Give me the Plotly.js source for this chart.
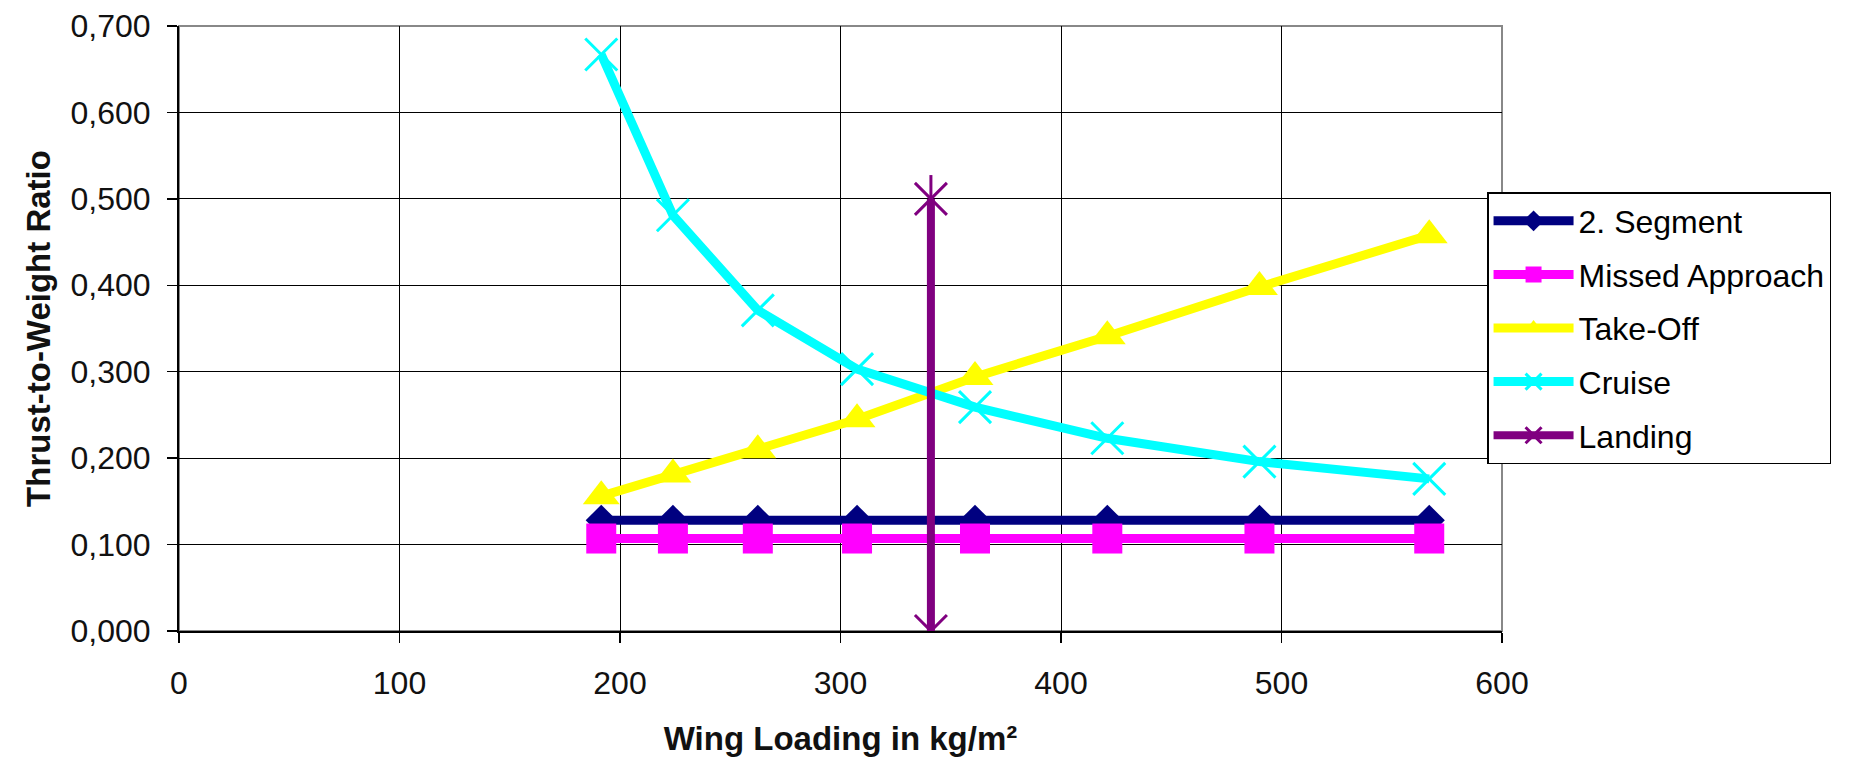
<!DOCTYPE html>
<html>
<head>
<meta charset="utf-8">
<script src="https://cdn.plot.ly/plotly-3.0.1.min.js"></script>
<style>
html,body{margin:0;padding:0;background:#fff;}
#chart{width:1854px;height:757px;}
</style>
</head>
<body>
<div id="chart"></div>
<script>
// Wing loading values (kg/m²)
const wingLoading = [191.5, 224, 262.5, 307.5, 361, 421, 490, 567];
const segment2 = [0.128, 0.128, 0.128, 0.128, 0.128, 0.128, 0.128, 0.128];
const missedApproach = [0.107, 0.107, 0.107, 0.107, 0.107, 0.107, 0.107, 0.107];
const takeOff = [0.156, 0.181, 0.209, 0.245, 0.294, 0.341, 0.398, 0.458];
const cruise = [0.667, 0.481, 0.371, 0.303, 0.259, 0.223, 0.196, 0.176];
const landingX = [341, 341];
const landingY = [0.0, 0.5];
const seriesNames = ["2. Segment", "Missed Approach", "Take-Off", "Cruise", "Landing"];

const FONT = "Liberation Sans, Arial, sans-serif";

const traces = [
  {x: wingLoading, y: segment2, name: seriesNames[0], legendgroup: "a", mode: "lines+markers",
   line: {color: "#000080", width: 9}, marker: {symbol: "diamond", size: 24, color: "#000080"}},
  {x: wingLoading, y: missedApproach, name: seriesNames[1], legendgroup: "b", mode: "lines+markers",
   line: {color: "#FF00FF", width: 9}, marker: {symbol: "square", size: 30, color: "#FF00FF"}},
  {x: wingLoading, y: takeOff, name: seriesNames[2], legendgroup: "c", mode: "lines+markers",
   line: {color: "#FFFF00", width: 9}, marker: {symbol: "triangle-up", size: 32, color: "#FFFF00"}},
  {x: wingLoading, y: cruise, name: seriesNames[3], legendgroup: "d", mode: "lines+markers",
   line: {color: "#00FFFF", width: 9}, marker: {symbol: "x-thin-open", size: 32, color: "#00FFFF", line: {color: "#00FFFF", width: 3}}},
  {x: landingX, y: landingY, name: seriesNames[4], legendgroup: "e", mode: "lines+markers",
   line: {color: "#800080", width: 8}, marker: {symbol: "x-thin-open", size: 32, color: "#800080", line: {color: "#800080", width: 3}}},
  {x: landingX, y: landingY, name: seriesNames[4], legendgroup: "e", showlegend: false, mode: "markers",
   marker: {symbol: "line-ns-open", size: 34, color: "#800080", line: {color: "#800080", width: 3}}}
];

const layout = {
  width: 1854, height: 757,
  margin: {l: 179, r: 352, t: 26, b: 126, pad: 0},
  paper_bgcolor: "#ffffff", plot_bgcolor: "#ffffff",
  separators: ", ",
  font: {family: FONT, color: "#111111", size: 32},
  showlegend: true,
  legend: {
    x: 0.9887, y: 0.7256, xanchor: "left", yanchor: "top",
    bgcolor: "#ffffff", bordercolor: "#000000", borderwidth: 1.5,
    font: {family: FONT, size: 32, color: "#000000"},
    tracegroupgap: 9, traceorder: "grouped", itemwidth: 80
  },
  xaxis: {
    range: [0, 600], dtick: 100, tick0: 0,
    showgrid: true, gridcolor: "#000000", gridwidth: 1,
    showline: true, linecolor: "#000000", linewidth: 2,
    ticks: "outside", ticklen: 10, tickcolor: "#000000", tickwidth: 1.5,
    ticklabelstandoff: 13,
    zeroline: false,
    tickfont: {family: FONT, size: 32, color: "#111111"},
    title: {text: "<b>Wing Loading in kg/m²</b>", font: {family: FONT, size: 33, color: "#111111"}, standoff: 28}
  },
  yaxis: {
    range: [0, 0.7], dtick: 0.1, tick0: 0, tickformat: ".3f",
    showgrid: true, gridcolor: "#000000", gridwidth: 1,
    showline: true, linecolor: "#000000", linewidth: 2,
    ticks: "outside", ticklen: 10, tickcolor: "#000000", tickwidth: 1.5,
    ticklabelstandoff: 10,
    zeroline: false,
    tickfont: {family: FONT, size: 32, color: "#111111"},
    title: {text: "<b>Thrust-to-Weight Ratio</b>", font: {family: FONT, size: 33, color: "#111111"}, standoff: 10}
  },
  shapes: [
    {type: "rect", xref: "paper", yref: "paper", x0: 0, x1: 1, y0: 0, y1: 1,
     line: {color: "#888888", width: 2}, layer: "below"}
  ]
};

Plotly.newPlot("chart", traces, layout, {displayModeBar: false, staticPlot: true});
</script>
</body>
</html>
